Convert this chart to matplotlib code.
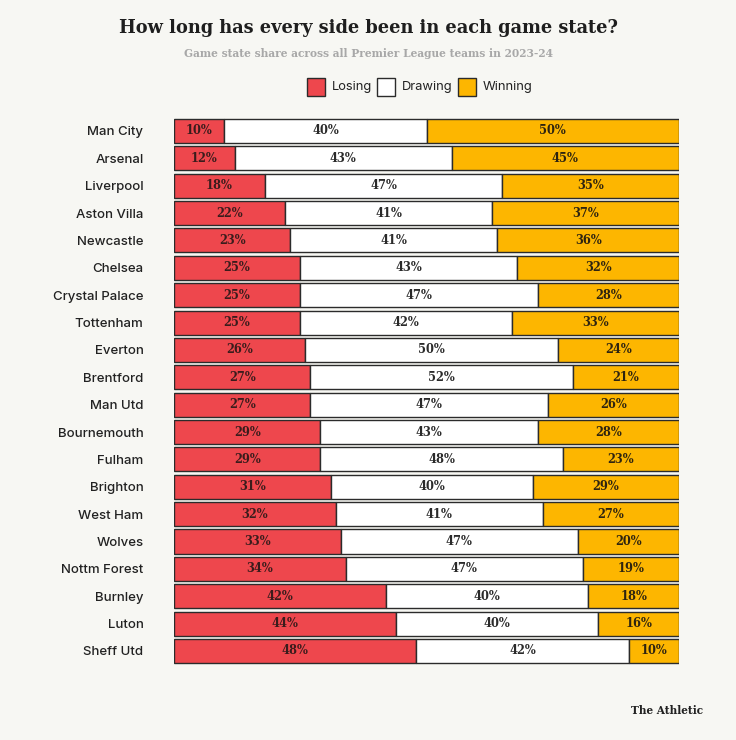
import numpy as np
import matplotlib.pyplot as plt
from matplotlib.patches import Rectangle

teams = ['Man City', 'Arsenal', 'Liverpool', 'Aston Villa', 'Newcastle', 'Chelsea',
         'Crystal Palace', 'Tottenham', 'Everton', 'Brentford', 'Man Utd', 'Bournemouth',
         'Fulham', 'Brighton', 'West Ham', 'Wolves', 'Nottm Forest', 'Burnley', 'Luton',
         'Sheff Utd']
losing = [10, 12, 18, 22, 23, 25, 25, 25, 26, 27, 27, 29, 29, 31, 32, 33, 34, 42, 44, 48]
drawing = [40, 43, 47, 41, 41, 43, 47, 42, 50, 52, 47, 43, 48, 40, 41, 47, 47, 40, 40, 42]
winning = [50, 45, 35, 37, 36, 32, 28, 33, 24, 21, 26, 28, 23, 29, 27, 20, 19, 18, 16, 10]

bg = '#f7f7f3'
red = '#ee474d'
white = '#ffffff'
gold = '#fdb600'
edge = '#2b2b2b'

fig = plt.figure(figsize=(7.36, 7.4), dpi=100, facecolor=bg)
ax = fig.add_axes([0.2364, 0.1018, 0.6862, 0.7397])
ax.set_facecolor(bg)

y = np.arange(len(teams))
losing = np.array(losing)
drawing = np.array(drawing)
winning = np.array(winning)

h = 0.88
ax.barh(y, losing, height=h, color=red, edgecolor=edge, linewidth=1)
ax.barh(y, drawing, left=losing, height=h, color=white, edgecolor=edge, linewidth=1)
ax.barh(y, winning, left=losing + drawing, height=h, color=gold, edgecolor=edge, linewidth=1)

lab = dict(ha='center', va='center', fontsize=8.3, fontweight='bold',
           family='DejaVu Serif')
for i in range(len(teams)):
    ax.text(losing[i] / 2, y[i], f'{losing[i]}%', color='#3a1c1c', **lab)
    ax.text(losing[i] + drawing[i] / 2, y[i], f'{drawing[i]}%', color='#2a2a2a', **lab)
    ax.text(losing[i] + drawing[i] + winning[i] / 2, y[i], f'{winning[i]}%',
            color='#2e2410', **lab)

ax.set_xlim(0, 100)
ax.set_ylim(len(teams) - 0.5, -0.5)
ax.set_yticks(y)
ax.set_yticklabels(teams, fontsize=9.5, family='Inter', fontweight='medium', color='#222222')
ax.tick_params(axis='y', length=0, pad=22)
ax.set_xticks([])
for s in ax.spines.values():
    s.set_visible(False)

fig.text(0.5, 0.962, 'How long has every side been in each game state?', ha='center',
         va='center', fontsize=12.8, fontweight='bold', family='DejaVu Serif', color='#1e1e1e')
fig.text(0.5, 0.928, 'Game state share across all Premier League teams in 2023-24',
         ha='center', va='center', fontsize=7.7, fontweight='bold', family='DejaVu Serif',
         color='#a8a8a8')

# legend
items = [('Losing', red, 0.4171), ('Drawing', white, 0.5122), ('Winning', gold, 0.6223)]
for name, c, x0 in items:
    fig.patches.append(Rectangle((x0, 0.8703), 0.0245, 0.0243, transform=fig.transFigure,
                                 facecolor=c, edgecolor=edge, linewidth=1))
    fig.text(x0 + 0.034, 0.8824, name, ha='left', va='center', fontsize=9.3,
             family='Inter', color='#222222')

fig.text(0.955, 0.040, 'The Athletic', ha='right', va='center', fontsize=7.6,
         fontweight='bold', family='DejaVu Serif', color='#222222')

fig.savefig('out.png', dpi=100, facecolor=bg)
